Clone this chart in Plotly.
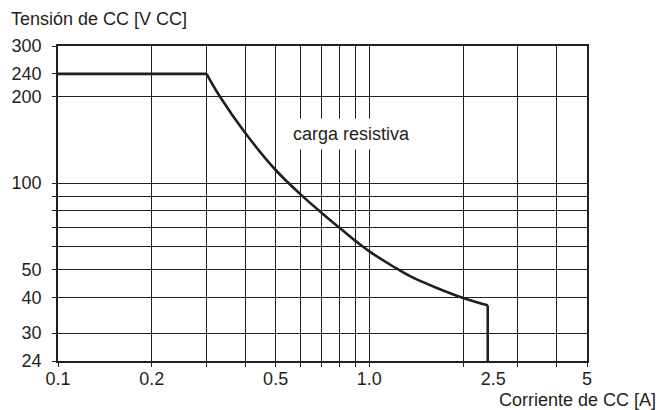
import plotly.graph_objects as go

# Data
flat_current = [0.1, 0.3]
flat_voltage = [240, 240]

curve_current = [0.3, 0.331, 0.4, 0.5, 0.6, 0.7, 0.8, 0.9, 1.0, 1.2, 1.36, 1.64, 2.0, 2.4]
curve_voltage = [240, 200, 149, 111, 91.5, 79, 70, 63, 57.8, 51, 47.2, 43.2, 39.8, 37.5]

drop_current = [2.4, 2.4]
drop_voltage = [37.5, 24]

x_tick_vals = [0.1, 0.2, 0.5, 1.0, 2.5, 5]
x_tick_text = ["0.1", "0.2", "0.5", "1.0", "2.5", "5"]
x_grid_vals = [0.1, 0.2, 0.3, 0.4, 0.5, 0.6, 0.7, 0.8, 0.9, 1.0, 2, 3, 4, 5]

y_tick_vals = [24, 30, 40, 50, 100, 200, 240, 300]
y_tick_text = ["24", "30", "40", "50", "100", "200", "240", "300"]
y_grid_vals = [30, 40, 50, 60, 70, 80, 90, 100, 200]

ink = "#231f20"
font = dict(family="Liberation Sans, Arial, sans-serif", size=18, color=ink)

fig = go.Figure()
line = dict(color=ink, width=2.6)
fig.add_trace(go.Scatter(x=flat_current, y=flat_voltage, mode="lines", line=line, hoverinfo="skip"))
fig.add_trace(go.Scatter(x=curve_current, y=curve_voltage, mode="lines",
                         line=dict(color=ink, width=2.6, shape="spline", smoothing=1.0), hoverinfo="skip"))
fig.add_trace(go.Scatter(x=drop_current, y=drop_voltage, mode="lines", line=line, hoverinfo="skip"))

fig.update_layout(
    width=659, height=410,
    margin=dict(l=53, r=72, t=46, b=49),
    paper_bgcolor="white", plot_bgcolor="white",
    showlegend=False,
    font=font,
)
fig.update_xaxes(
    type="log", range=[-1, 0.69897],
    tickmode="array", tickvals=x_tick_vals, ticktext=x_tick_text,
    ticks="", showgrid=False, zeroline=False,
    showline=True, mirror=True, linecolor=ink, linewidth=1.6,
    ticklabelstandoff=1,
    tickfont=font,
    minor=dict(tickmode="array", tickvals=x_grid_vals, ticks="outside", ticklen=4,
               tickwidth=1.4, tickcolor=ink, showgrid=True, gridcolor=ink, gridwidth=1.4),
)
fig.update_yaxes(
    type="log", range=[1.380211, 2.477121],
    tickmode="array", tickvals=y_tick_vals, ticktext=y_tick_text,
    ticks="outside", ticklen=4, tickwidth=1.4, tickcolor=ink,
    showgrid=False, zeroline=False,
    showline=True, mirror=True, linecolor=ink, linewidth=1.6,
    ticklabelstandoff=7,
    tickfont=font,
    minor=dict(tickmode="array", tickvals=y_grid_vals, ticks="outside", ticklen=4,
               tickwidth=1.4, tickcolor=ink, showgrid=True, gridcolor=ink, gridwidth=1.4),
)

fig.add_annotation(text="carga resistiva", x=-0.0585, y=2.17, xref="x", yref="y",
                   showarrow=False, bgcolor="white", borderpad=5, font=font)
fig.add_annotation(text="Tensión de CC [V CC]", x=0, y=1, xref="paper", yref="paper",
                   xanchor="left", yanchor="bottom", xshift=-49, yshift=15,
                   showarrow=False, font=font)
fig.add_annotation(text="Corriente de CC [A]", x=1, y=0, xref="paper", yref="paper",
                   xanchor="right", yanchor="top", xshift=71, yshift=-27,
                   showarrow=False, font=font)

fig.write_html("out.html", config={"displayModeBar": False},
               post_script="document.body.style.margin='0';document.body.style.overflow='hidden';")
